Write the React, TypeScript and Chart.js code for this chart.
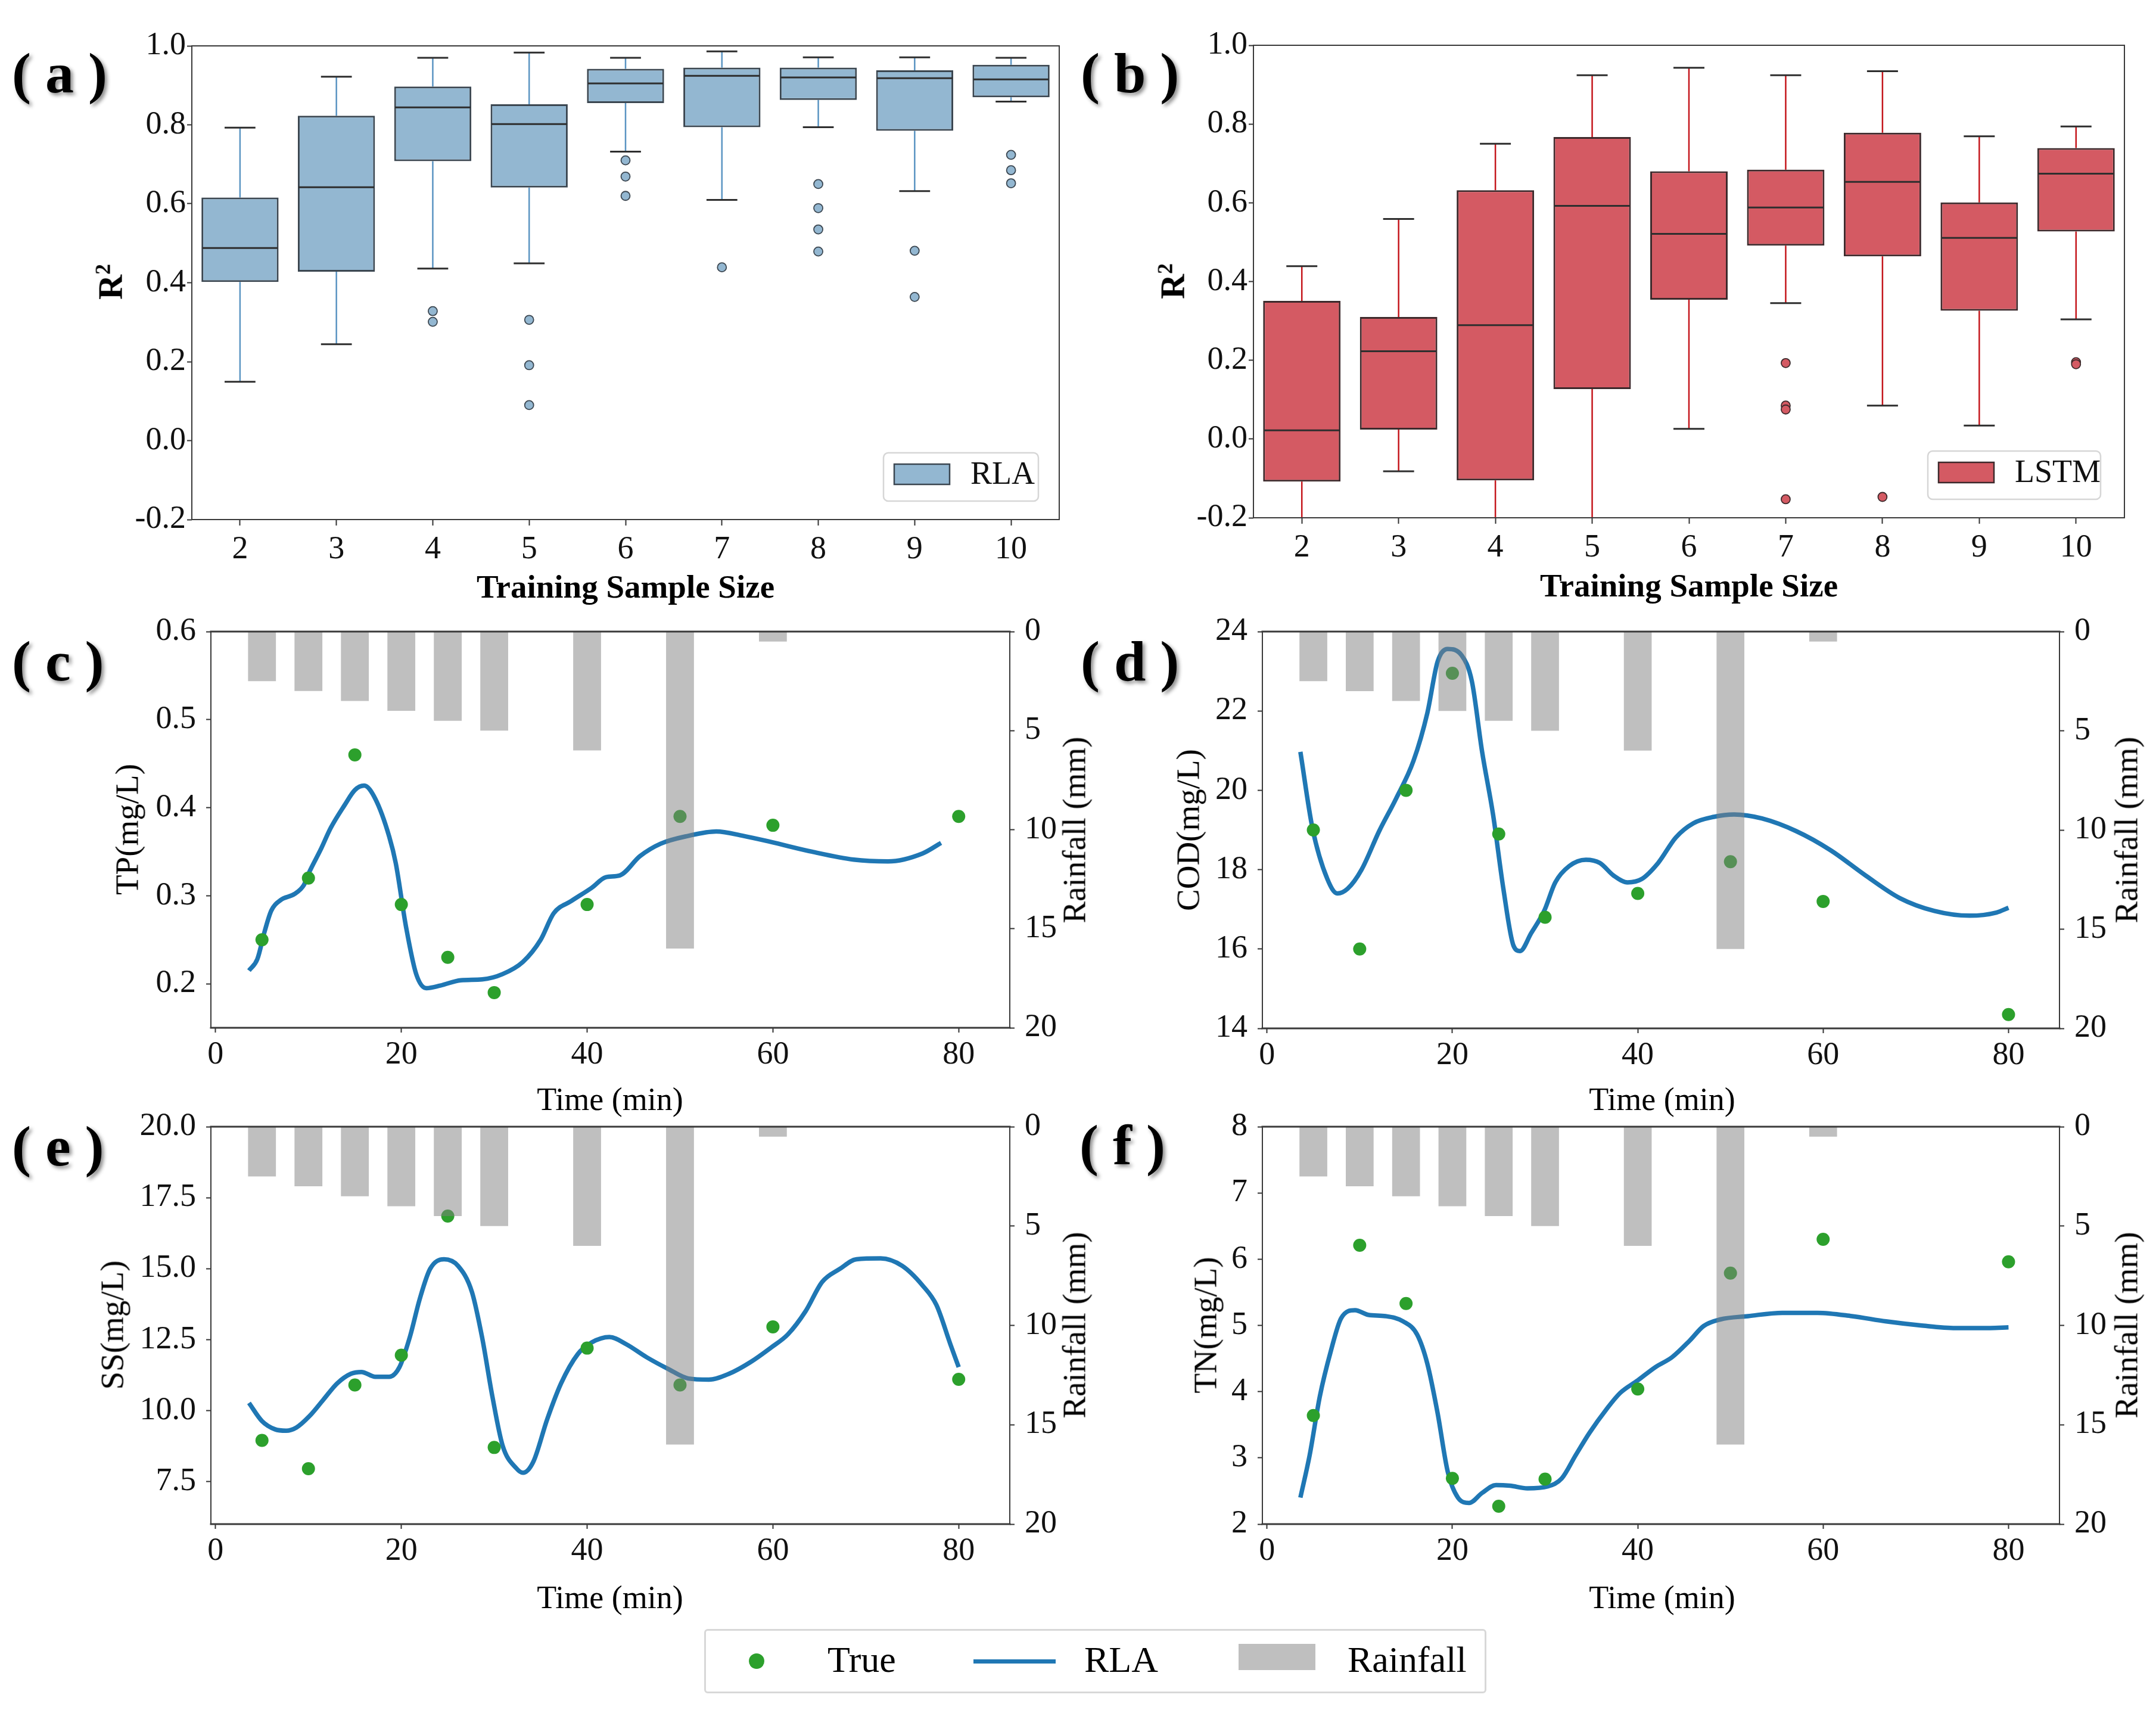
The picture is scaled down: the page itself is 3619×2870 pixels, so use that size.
import React, { useEffect, useRef } from 'react';
import { Chart, registerables } from 'chart.js';

Chart.register(...registerables);

const FONT = '"Liberation Serif", "Times New Roman", Times, serif';
const TICK_SIZE = 54;

// ---- (a) / (b) box plots: R2 by training sample size ----
const sampleSizes = ['2', '3', '4', '5', '6', '7', '8', '9', '10'];
const r2Ticks = [-0.2, 0, 0.2, 0.4, 0.6, 0.8, 1.0];

const rlaLower = [0.149, 0.244, 0.436, 0.449, 0.732, 0.61, 0.794, 0.632, 0.859];
const rlaQ1 = [0.402, 0.428, 0.708, 0.641, 0.855, 0.794, 0.863, 0.785, 0.87];
const rlaMedian = [0.488, 0.642, 0.844, 0.802, 0.905, 0.924, 0.92, 0.918, 0.915];
const rlaQ3 = [0.616, 0.823, 0.897, 0.852, 0.942, 0.945, 0.945, 0.938, 0.952];
const rlaUpper = [0.793, 0.922, 0.97, 0.983, 0.97, 0.986, 0.971, 0.971, 0.97];
const rlaOutliers = [[], [], [0.328, 0.301], [0.306, 0.191, 0.09], [0.71, 0.669, 0.62], [0.439], [0.65, 0.589, 0.535, 0.479], [0.481, 0.364], [0.724, 0.685, 0.652]];

const lstmLower = [-0.25, -0.082, -0.3, -0.45, 0.026, 0.345, 0.085, 0.034, 0.304];
const lstmQ1 = [-0.108, 0.024, -0.105, 0.127, 0.354, 0.491, 0.464, 0.326, 0.527];
const lstmMedian = [0.022, 0.223, 0.289, 0.592, 0.521, 0.588, 0.653, 0.511, 0.674];
const lstmQ3 = [0.351, 0.31, 0.632, 0.767, 0.68, 0.684, 0.778, 0.601, 0.739];
const lstmUpper = [0.439, 0.559, 0.75, 0.924, 0.943, 0.924, 0.934, 0.769, 0.794];
const lstmOutliers = [[], [], [], [], [], [0.193, 0.085, 0.075, -0.153], [-0.147], [], [0.195, 0.19]];

// ---- (c)-(f) time series ----
const timeTicks = [0, 20, 40, 60, 80];
const rainTicks = [0, 5, 10, 15, 20];
const rainTime = [5, 10, 15, 20, 25, 30, 40, 50, 60];
const rainfall = [2.5, 3, 3.5, 4, 4.5, 5, 6, 16, 0.5];
const sampleTime = [5, 10, 15, 20, 25, 30, 40, 50, 60, 80];

const tpTrue = [0.25, 0.32, 0.46, 0.29, 0.23, 0.19, 0.29, 0.39, 0.38, 0.39];
const codTrue = [19.0, 16.0, 20.0, 22.95, 18.9, 16.8, 17.4, 18.2, 17.2, 14.35];
const ssTrue = [8.95, 7.95, 10.9, 11.95, 16.85, 8.7, 12.2, 10.9, 12.95, 11.1];
const tnTrue = [3.64, 6.21, 5.33, 2.69, 2.27, 2.68, 4.04, 5.79, 6.3, 5.96];

const tpTicks = [0.2, 0.3, 0.4, 0.5, 0.6];
const codTicks = [14, 16, 18, 20, 22, 24];
const ssTicks = [7.5, 10, 12.5, 15, 17.5, 20];
const tnTicks = [2, 3, 4, 5, 6, 7, 8];

const tpCurveT = [3.6, 4.5, 5.3, 6.0, 7.0, 8.5, 9.5, 10.1, 11.3, 12.4, 13.9, 15.0, 16.0, 17.2, 18.7, 19.4, 20.5, 21.6, 22.7, 24.2, 26.4, 28.7, 30.9, 33.1, 35.0, 36.4, 38.3, 40.5, 42.0, 43.5, 45.7, 47.9, 50.9, 53.9, 56.8, 59.8, 64.2, 68.7, 72.4, 76.1, 78.1];
const tpRla = [0.215, 0.228, 0.26, 0.283, 0.295, 0.302, 0.312, 0.327, 0.352, 0.377, 0.403, 0.42, 0.425, 0.41, 0.367, 0.337, 0.265, 0.211, 0.195, 0.198, 0.204, 0.205, 0.211, 0.225, 0.25, 0.28, 0.294, 0.309, 0.321, 0.323, 0.345, 0.359, 0.368, 0.373, 0.368, 0.361, 0.35, 0.341, 0.339, 0.348, 0.36];

const codCurveT = [3.6, 4.9, 6.5, 7.6, 8.7, 10.2, 12.1, 13.9, 15.8, 17.3, 18.4, 19.5, 21.0, 22.1, 23.2, 24.4, 25.5, 26.6, 27.3, 28.5, 29.9, 31.1, 32.6, 34.4, 35.9, 37.4, 38.9, 40.4, 42.2, 44.1, 46.0, 48.2, 50.4, 53.4, 57.1, 60.8, 64.6, 68.3, 72.0, 75.8, 78.7, 80.0];
const codRla = [20.97, 19.05, 17.77, 17.4, 17.52, 18.0, 18.97, 19.78, 20.74, 21.95, 23.24, 23.56, 23.4, 22.75, 20.98, 19.37, 17.52, 16.08, 15.95, 16.4, 16.96, 17.68, 18.09, 18.25, 18.17, 17.85, 17.68, 17.76, 18.17, 18.81, 19.17, 19.33, 19.39, 19.29, 18.97, 18.49, 17.85, 17.28, 16.96, 16.84, 16.92, 17.04];

const ssCurveT = [3.6, 5.0, 6.4, 7.6, 8.7, 10.1, 11.6, 13.1, 14.6, 15.7, 17.2, 18.7, 19.8, 20.9, 22.0, 23.1, 24.6, 26.1, 27.6, 28.7, 29.8, 30.9, 32.4, 33.1, 34.2, 35.7, 37.2, 39.0, 40.5, 42.4, 44.2, 46.4, 48.7, 50.9, 53.1, 55.3, 57.6, 59.8, 61.6, 63.5, 65.3, 67.2, 69.0, 71.6, 73.9, 76.1, 77.6, 79.1, 80.0];
const ssRla = [10.27, 9.63, 9.34, 9.29, 9.4, 9.8, 10.38, 10.96, 11.3, 11.36, 11.19, 11.19, 11.53, 12.57, 13.95, 14.99, 15.33, 15.1, 14.18, 12.57, 10.5, 8.77, 7.96, 7.81, 8.19, 9.69, 10.96, 11.99, 12.4, 12.59, 12.34, 11.88, 11.47, 11.13, 11.09, 11.3, 11.71, 12.22, 12.68, 13.49, 14.53, 14.99, 15.33, 15.36, 15.1, 14.41, 13.72, 12.34, 11.53];

const tnCurveT = [3.6, 4.6, 5.7, 6.9, 8.0, 9.5, 10.9, 12.8, 14.7, 16.2, 17.3, 18.4, 19.5, 20.6, 21.8, 23.2, 24.7, 26.2, 28.1, 30.3, 31.8, 33.3, 34.8, 36.6, 38.1, 40.0, 41.9, 43.7, 45.6, 47.1, 48.9, 51.9, 55.6, 59.4, 63.1, 66.8, 70.5, 74.3, 78.0, 80.0];
const tnRla = [2.4, 3.04, 3.93, 4.62, 5.11, 5.23, 5.16, 5.14, 5.06, 4.86, 4.42, 3.68, 2.79, 2.4, 2.32, 2.47, 2.59, 2.58, 2.54, 2.57, 2.69, 3.04, 3.38, 3.73, 3.98, 4.17, 4.37, 4.52, 4.77, 4.99, 5.09, 5.14, 5.19, 5.19, 5.14, 5.06, 5.0, 4.96, 4.96, 4.97];

type Area = { L: number; T: number; R: number; B: number };

const PAD_L = 150;
const PAD_T = 40;
const PAD_B = 90;
const PAD_R = 150;

const zeroPadding = (s: any) => {
  s.paddingLeft = 0;
  s.paddingRight = 0;
  s.paddingTop = 0;
  s.paddingBottom = 0;
};

const tickGrid = (len: number) => ({
  display: true,
  drawOnChartArea: false,
  drawTicks: true,
  tickLength: len,
  tickWidth: 2,
  tickColor: '#333',
  offset: false,
});

const tickFont = { family: FONT, size: TICK_SIZE };

function framePlugin(side: number, topBottom: number) {
  return {
    id: 'frame',
    afterDraw(chart: any) {
      const { ctx } = chart;
      const { left, top, right, bottom } = chart.chartArea;
      ctx.save();
      ctx.strokeStyle = '#3a3a3a';
      ctx.lineCap = 'square';
      ctx.lineWidth = topBottom;
      ctx.beginPath();
      ctx.moveTo(left, top);
      ctx.lineTo(right, top);
      ctx.moveTo(left, bottom);
      ctx.lineTo(right, bottom);
      ctx.stroke();
      ctx.lineWidth = side;
      ctx.beginPath();
      ctx.moveTo(left, top);
      ctx.lineTo(left, bottom);
      ctx.moveTo(right, top);
      ctx.lineTo(right, bottom);
      ctx.stroke();
      ctx.restore();
    },
  };
}

type BoxProps = {
  area: Area;
  lower: number[];
  q1: number[];
  median: number[];
  q3: number[];
  upper: number[];
  outliers: number[][];
  fill: string;
  edge: string;
  whisker: string;
  label: string;
  legendW: number;
  legendGap: number;
};

function BoxPanel(p: BoxProps) {
  const ref = useRef<HTMLCanvasElement>(null);
  const padR = 40;
  const w = p.area.R - p.area.L + PAD_L + padR;
  const h = p.area.B - p.area.T + PAD_T + PAD_B;

  useEffect(() => {
    if (!ref.current) return;

    const clipArea = (chart: any) => {
      const ca = chart.chartArea;
      chart.ctx.beginPath();
      chart.ctx.rect(ca.left, ca.top, ca.right - ca.left, ca.bottom - ca.top);
      chart.ctx.clip();
    };

    const extras = {
      id: 'boxExtras',
      beforeDatasetsDraw(chart: any) {
        const ctx = chart.ctx;
        const y = chart.scales.y;
        const meta = chart.getDatasetMeta(0);
        ctx.save();
        clipArea(chart);
        ctx.strokeStyle = p.whisker;
        ctx.lineWidth = 2.5;
        meta.data.forEach((bar: any, i: number) => {
          ctx.beginPath();
          ctx.moveTo(bar.x, y.getPixelForValue(p.lower[i]));
          ctx.lineTo(bar.x, y.getPixelForValue(p.q1[i]));
          ctx.moveTo(bar.x, y.getPixelForValue(p.q3[i]));
          ctx.lineTo(bar.x, y.getPixelForValue(p.upper[i]));
          ctx.stroke();
        });
        ctx.restore();
      },
      afterDatasetsDraw(chart: any) {
        const ctx = chart.ctx;
        const y = chart.scales.y;
        const meta = chart.getDatasetMeta(0);
        ctx.save();
        clipArea(chart);
        meta.data.forEach((bar: any, i: number) => {
          const half = bar.width / 2;
          const cap = bar.width * 0.2;
          ctx.strokeStyle = '#2e2e2e';
          ctx.lineWidth = 3;
          ctx.beginPath();
          ctx.moveTo(bar.x - cap, y.getPixelForValue(p.lower[i]));
          ctx.lineTo(bar.x + cap, y.getPixelForValue(p.lower[i]));
          ctx.moveTo(bar.x - cap, y.getPixelForValue(p.upper[i]));
          ctx.lineTo(bar.x + cap, y.getPixelForValue(p.upper[i]));
          ctx.moveTo(bar.x - half + 1.5, y.getPixelForValue(p.median[i]));
          ctx.lineTo(bar.x + half - 1.5, y.getPixelForValue(p.median[i]));
          ctx.stroke();
          p.outliers[i].forEach((v) => {
            ctx.beginPath();
            ctx.arc(bar.x, y.getPixelForValue(v), 7.5, 0, Math.PI * 2);
            ctx.fillStyle = p.fill;
            ctx.fill();
            ctx.lineWidth = 1.8;
            ctx.strokeStyle = p.edge;
            ctx.stroke();
          });
        });
        ctx.restore();
      },
      afterDraw(chart: any) {
        const ctx = chart.ctx;
        const { right, bottom } = chart.chartArea;
        const bx = right - p.legendGap - p.legendW;
        const by = bottom - 112;
        ctx.save();
        ctx.fillStyle = 'rgba(255,255,255,0.85)';
        ctx.strokeStyle = '#d6d6d6';
        ctx.lineWidth = 2.5;
        ctx.beginPath();
        ctx.roundRect(bx, by, p.legendW, 81, 8);
        ctx.fill();
        ctx.stroke();
        ctx.fillStyle = p.fill;
        ctx.strokeStyle = p.edge;
        ctx.lineWidth = 2.5;
        ctx.fillRect(bx + 18, by + 19, 93, 34);
        ctx.strokeRect(bx + 18, by + 19, 93, 34);
        ctx.fillStyle = '#111';
        ctx.font = `${TICK_SIZE}px ${FONT}`;
        ctx.textBaseline = 'middle';
        ctx.textAlign = 'left';
        ctx.fillText(p.label, bx + 146, by + 38);
        ctx.restore();
      },
    };

    const chart = new Chart(ref.current, {
      type: 'bar',
      data: {
        labels: sampleSizes,
        datasets: [
          {
            data: p.q1.map((v, i) => [v, p.q3[i]]),
            backgroundColor: p.fill,
            borderColor: p.edge,
            borderWidth: 3,
            borderSkipped: false,
            barPercentage: 0.8,
            categoryPercentage: 1,
          } as any,
        ],
      },
      options: {
        animation: false,
        responsive: false,
        events: [],
        layout: { padding: { top: PAD_T, right: padR, left: 0, bottom: 0 } },
        plugins: { legend: { display: false }, tooltip: { enabled: false } },
        scales: {
          x: {
            type: 'category',
            offset: true,
            grid: tickGrid(10) as any,
            border: { display: false },
            ticks: { font: tickFont, color: '#111', padding: 8, maxRotation: 0, autoSkip: false },
            afterFit: (s: any) => {
              s.height = PAD_B;
              zeroPadding(s);
            },
          },
          y: {
            type: 'linear',
            min: -0.2,
            max: 1.0,
            grid: tickGrid(8) as any,
            border: { display: false },
            afterBuildTicks: (s: any) => {
              s.ticks = r2Ticks.map((v) => ({ value: v }));
            },
            ticks: { font: tickFont, color: '#111', padding: 2, callback: (v: any) => Number(v).toFixed(1) },
            afterFit: (s: any) => {
              s.width = PAD_L;
              zeroPadding(s);
            },
          },
        },
      },
      plugins: [extras, framePlugin(2, 2)],
    });
    return () => chart.destroy();
  }, []);

  return (
    <canvas
      ref={ref}
      width={w}
      height={h}
      style={{ position: 'absolute', left: p.area.L - PAD_L, top: p.area.T - PAD_T, width: w, height: h }}
    />
  );
}

type SeriesProps = {
  area: Area;
  yMin: number;
  yMax: number;
  yTicks: number[];
  decimals: number;
  trueVals: number[];
  curveT: number[];
  curveV: number[];
};

function SeriesPanel(p: SeriesProps) {
  const ref = useRef<HTMLCanvasElement>(null);
  const w = p.area.R - p.area.L + PAD_L + PAD_R;
  const h = p.area.B - p.area.T + PAD_T + PAD_B;

  useEffect(() => {
    if (!ref.current) return;
    const chart = new Chart(ref.current, {
      type: 'bar',
      data: {
        datasets: [
          {
            type: 'bar',
            data: rainTime.map((x, i) => ({ x, y: rainfall[i] })),
            backgroundColor: 'rgba(128,128,128,0.5)',
            barPercentage: 0.6,
            categoryPercentage: 1,
            yAxisID: 'y1',
            order: 0,
          } as any,
          {
            type: 'line',
            data: sampleTime.map((x, i) => ({ x, y: p.trueVals[i] })),
            showLine: false,
            pointRadius: 11,
            pointBackgroundColor: '#2ca02c',
            pointBorderWidth: 0,
            borderColor: '#2ca02c',
            yAxisID: 'y',
            order: 1,
          },
          {
            type: 'line',
            data: p.curveT.map((x, i) => ({ x, y: p.curveV[i] })),
            borderColor: '#1f77b4',
            borderWidth: 7.5,
            pointRadius: 0,
            cubicInterpolationMode: 'monotone',
            yAxisID: 'y',
            order: 2,
          },
        ],
      },
      options: {
        animation: false,
        responsive: false,
        events: [],
        layout: { padding: { top: PAD_T, right: 0, left: 0, bottom: 0 } },
        plugins: { legend: { display: false }, tooltip: { enabled: false } },
        scales: {
          x: {
            type: 'linear',
            min: -0.5,
            max: 85.5,
            offset: false,
            grid: tickGrid(8) as any,
            border: { display: false },
            afterBuildTicks: (s: any) => {
              s.ticks = timeTicks.map((v) => ({ value: v }));
            },
            ticks: { font: tickFont, color: '#111', padding: 5, maxRotation: 0, autoSkip: false },
            afterFit: (s: any) => {
              s.height = PAD_B;
              zeroPadding(s);
            },
          },
          y: {
            type: 'linear',
            position: 'left',
            min: p.yMin,
            max: p.yMax,
            grid: tickGrid(8) as any,
            border: { display: false },
            afterBuildTicks: (s: any) => {
              s.ticks = p.yTicks.map((v) => ({ value: v }));
            },
            ticks: { font: tickFont, color: '#111', padding: 17, callback: (v: any) => Number(v).toFixed(p.decimals) },
            afterFit: (s: any) => {
              s.width = PAD_L;
              zeroPadding(s);
            },
          },
          y1: {
            type: 'linear',
            position: 'right',
            reverse: true,
            min: 0,
            max: 20,
            grid: tickGrid(8) as any,
            border: { display: false },
            afterBuildTicks: (s: any) => {
              s.ticks = rainTicks.map((v) => ({ value: v }));
            },
            ticks: { font: tickFont, color: '#111', padding: 17, callback: (v: any) => String(v) },
            afterFit: (s: any) => {
              s.width = PAD_R;
              zeroPadding(s);
            },
          },
        },
      },
      plugins: [framePlugin(2, 3)],
    });
    return () => chart.destroy();
  }, []);

  return (
    <canvas
      ref={ref}
      width={w}
      height={h}
      style={{ position: 'absolute', left: p.area.L - PAD_L, top: p.area.T - PAD_T, width: w, height: h }}
    />
  );
}

type TextProps = {
  x: number;
  y: number;
  size: number;
  bold?: boolean;
  rotate?: number;
  left?: boolean;
  shadow?: boolean;
  children: React.ReactNode;
};

function Text({ x, y, size, bold, rotate = 0, left, shadow, children }: TextProps) {
  return (
    <div
      style={{
        position: 'absolute',
        left: x,
        top: y,
        transform: `translate(${left ? '0' : '-50%'}, -50%) rotate(${rotate}deg)`,
        fontFamily: FONT,
        fontSize: size,
        fontWeight: bold ? 700 : 400,
        lineHeight: 1,
        whiteSpace: 'nowrap',
        color: '#000',
        textShadow: shadow ? '4px 4px 6px rgba(0,0,0,0.45)' : undefined,
      }}
    >
      {children}
    </div>
  );
}

const R2 = () => (
  <span>
    R<sup style={{ fontSize: '0.62em', verticalAlign: '0.55em' }}>2</sup>
  </span>
);

export default function App() {
  return (
    <div style={{ position: 'absolute', left: 0, top: 0, width: 3619, height: 2870, background: '#fff', overflow: 'hidden' }}>
      <BoxPanel
        area={{ L: 322, T: 77, R: 1778, B: 872 }}
        lower={rlaLower}
        q1={rlaQ1}
        median={rlaMedian}
        q3={rlaQ3}
        upper={rlaUpper}
        outliers={rlaOutliers}
        fill="#93b7d1"
        edge="#3b4650"
        whisker="#5a94c2"
        label="RLA"
        legendW={260}
        legendGap={35}
      />
      <BoxPanel
        area={{ L: 2104, T: 76, R: 3566, B: 869 }}
        lower={lstmLower}
        q1={lstmQ1}
        median={lstmMedian}
        q3={lstmQ3}
        upper={lstmUpper}
        outliers={lstmOutliers}
        fill="#d45a63"
        edge="#3d2a2c"
        whisker="#c4161c"
        label="LSTM"
        legendW={290}
        legendGap={40}
      />
      <SeriesPanel area={{ L: 354, T: 1060, R: 1695, B: 1725 }} yMin={0.15} yMax={0.6} yTicks={tpTicks} decimals={1} trueVals={tpTrue} curveT={tpCurveT} curveV={tpRla} />
      <SeriesPanel area={{ L: 2119, T: 1060, R: 3457, B: 1726 }} yMin={14} yMax={24} yTicks={codTicks} decimals={0} trueVals={codTrue} curveT={codCurveT} curveV={codRla} />
      <SeriesPanel area={{ L: 354, T: 1891, R: 1695, B: 2558 }} yMin={6} yMax={20} yTicks={ssTicks} decimals={1} trueVals={ssTrue} curveT={ssCurveT} curveV={ssRla} />
      <SeriesPanel area={{ L: 2119, T: 1891, R: 3457, B: 2558 }} yMin={2} yMax={8} yTicks={tnTicks} decimals={0} trueVals={tnTrue} curveT={tnCurveT} curveV={tnRla} />

      <Text x={20} y={123} size={96} bold left shadow>( a )</Text>
      <Text x={1814} y={123} size={96} bold left shadow>( b )</Text>
      <Text x={20} y={1110} size={96} bold left shadow>( c )</Text>
      <Text x={1814} y={1110} size={96} bold left shadow>( d )</Text>
      <Text x={20} y={1924} size={96} bold left shadow>( e )</Text>
      <Text x={1812} y={1922} size={96} bold left shadow>( f )</Text>

      <Text x={185} y={473} size={58} bold rotate={-90}><R2 /></Text>
      <Text x={1968} y={472} size={58} bold rotate={-90}><R2 /></Text>
      <Text x={1050} y={984} size={55} bold>Training Sample Size</Text>
      <Text x={2835} y={982} size={55} bold>Training Sample Size</Text>

      <Text x={213} y={1392} size={55} rotate={-90}>TP(mg/L)</Text>
      <Text x={1994} y={1393} size={55} rotate={-90}>COD(mg/L)</Text>
      <Text x={188} y={2224} size={55} rotate={-90}>SS(mg/L)</Text>
      <Text x={2023} y={2224} size={55} rotate={-90}>TN(mg/L)</Text>
      <Text x={1803} y={1393} size={55} rotate={-90}>Rainfall (mm)</Text>
      <Text x={3569} y={1393} size={55} rotate={-90}>Rainfall (mm)</Text>
      <Text x={1803} y={2224} size={55} rotate={-90}>Rainfall (mm)</Text>
      <Text x={3569} y={2224} size={55} rotate={-90}>Rainfall (mm)</Text>
      <Text x={1024} y={1845} size={54}>Time (min)</Text>
      <Text x={2790} y={1845} size={54}>Time (min)</Text>
      <Text x={1024} y={2681} size={54}>Time (min)</Text>
      <Text x={2790} y={2681} size={54}>Time (min)</Text>

      {/* shared legend */}
      <div style={{ position: 'absolute', left: 1182, top: 2734, width: 1313, height: 108, border: '3px solid #d8d8d8', borderRadius: 6, boxSizing: 'border-box' }} />
      <div style={{ position: 'absolute', left: 1257, top: 2775, width: 26, height: 26, borderRadius: 13, background: '#2ca02c' }} />
      <Text x={1389} y={2785} size={62} left>True</Text>
      <div style={{ position: 'absolute', left: 1634, top: 2785, width: 138, height: 7, background: '#1f77b4' }} />
      <Text x={1820} y={2785} size={62} left>RLA</Text>
      <div style={{ position: 'absolute', left: 2079, top: 2759, width: 129, height: 44, background: '#bfbfbf' }} />
      <Text x={2262} y={2785} size={62} left>Rainfall</Text>
    </div>
  );
}
